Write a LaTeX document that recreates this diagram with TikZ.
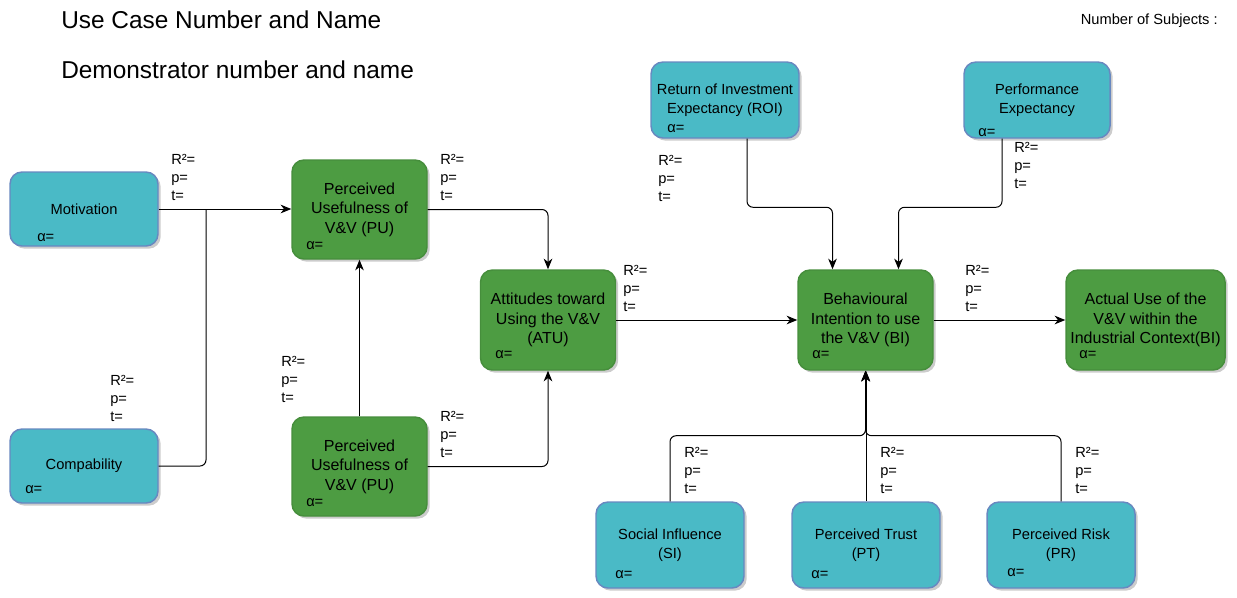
\documentclass[tikz,border=0pt]{standalone}
\usepackage{fontspec}
\setmainfont{Liberation Sans}
\usetikzlibrary{arrows.meta,calc,shadows}
\definecolor{cyanF}{RGB}{74,186,198}
\definecolor{cyanD}{RGB}{104,136,192}
\definecolor{greenF}{RGB}{77,156,66}
\definecolor{greenD}{RGB}{70,142,60}
\begin{document}
\begin{tikzpicture}[x=0.75pt,y=-0.75pt,
 box/.style={rectangle, rounded corners=9pt, line width=1.1pt, inner sep=0pt, align=center,
   font=\fontsize{11}{14.5}\selectfont,
   drop shadow={shadow xshift=2pt, shadow yshift=-2pt, fill=black!40, opacity=0.5}},
 cbox/.style={box, fill=cyanF, draw=cyanD},
 gbox/.style={box, fill=greenF, draw=greenD, font=\fontsize{12}{14.6}\selectfont},
 lbl/.style={font=\fontsize{11}{13.5}\selectfont, align=left, inner sep=0pt, anchor=base west},
 alab/.style={font=\fontsize{11}{13.5}\selectfont, inner sep=0pt, anchor=base west},
 conn/.style={line width=0.75pt, rounded corners=4.5pt},
 arr/.style={conn, -{Stealth[length=8pt,width=6.5pt,inset=2.5pt]}}
]
\useasboundingbox (0,0) rectangle (1237,597);

% titles
\node[font=\fontsize{18.3}{22}\selectfont, inner sep=0pt, anchor=base west] (t1) at (61,28) {Use Case Number and Name};
\node[font=\fontsize{18.3}{22}\selectfont, inner sep=0pt, anchor=base west] (t2) at (61,78) {Demonstrator number and name};
\node[font=\fontsize{11}{13.5}\selectfont, inner sep=0pt, anchor=base east] (t3) at (1218,24) {Number of Subjects :};

% boxes
\node[cbox, minimum width=111pt, minimum height=55.5pt] (mot) at (84,209) {Motivation};
\node[cbox, minimum width=111pt, minimum height=55.5pt] (comp) at (84,466) {Compability};
\node[gbox, minimum width=101.25pt, minimum height=74.25pt] (pu1) at (359.5,209.5) {Perceived\\Usefulness of\\V\&V (PU)};
\node[gbox, minimum width=101.25pt, minimum height=74.25pt] (pu2) at (359.5,466.5) {Perceived\\Usefulness of\\V\&V (PU)};
\node[gbox, minimum width=101.25pt, minimum height=75pt] (atu) at (548,320) {Attitudes toward\\Using the V\&V\\(ATU)};
\node[gbox, minimum width=101.25pt, minimum height=75pt] (bi) at (865.5,320) {Behavioural\\Intention to use\\the V\&V (BI)};
\node[gbox, minimum width=119.25pt, minimum height=75pt] (act) at (1145.5,320) {Actual Use of the\\V\&V within the\\Industrial Context(BI)};
\node[cbox, minimum width=111pt, minimum height=57pt] (roi) at (725,100) {Return of Investment\\Expectancy (ROI)};
\node[cbox, minimum width=109.5pt, minimum height=57pt] (perf) at (1037,100) {Performance\\Expectancy};
\node[cbox, minimum width=111pt, minimum height=64.5pt] (si) at (670,545) {Social Influence\\(SI)};
\node[cbox, minimum width=111pt, minimum height=64.5pt] (pt) at (866,545) {Perceived Trust\\(PT)};
\node[cbox, minimum width=111pt, minimum height=64.5pt] (pr) at (1061,545) {Perceived Risk\\(PR)};

% alpha labels
\node[alab] (amot) at (37,241) {α=};
\node[alab] (acomp) at (25,493) {α=};
\node[alab] (apu1) at (306,249) {α=};
\node[alab] (apu2) at (306,506) {α=};
\node[alab] (aatu) at (495,358) {α=};
\node[alab] (abi) at (812,358) {α=};
\node[alab] (aact) at (1079,358) {α=};
\node[alab] (aroi) at (667,132) {α=};
\node[alab] (aperf) at (978,136) {α=};
\node[alab] (asi) at (615,578) {α=};
\node[alab] (apt) at (811,578) {α=};
\node[alab] (apr) at (1007,576) {α=};

% statistic labels (anchor at the baseline of the last line)
\node[lbl] (l1) at (171,200) {R²=\\p=\\t=};
\node[lbl] (l2) at (440,200) {R²=\\p=\\t=};
\node[lbl] (l3) at (110,421) {R²=\\p=\\t=};
\node[lbl] (l4) at (281,402) {R²=\\p=\\t=};
\node[lbl] (l5) at (440,457) {R²=\\p=\\t=};
\node[lbl] (l6) at (623,311) {R²=\\p=\\t=};
\node[lbl] (l7) at (658,201) {R²=\\p=\\t=};
\node[lbl] (l8) at (1014,188) {R²=\\p=\\t=};
\node[lbl] (l9) at (965,311) {R²=\\p=\\t=};
\node[lbl] (l10) at (684,493) {R²=\\p=\\t=};
\node[lbl] (l11) at (880,493) {R²=\\p=\\t=};
\node[lbl] (l12) at (1075,493) {R²=\\p=\\t=};

% connectors
\coordinate (jn) at (206,209);
\draw[arr] (mot.east) -- (mot.east -| pu1.west);
\draw[conn] (comp.east) -| (jn);
\draw[arr] (pu1.east) -| (atu.north);
\draw[arr] (pu2.east) -| (atu.south);
\draw[arr] (pu2.north) -- (pu1.south);
\draw[arr] (atu.east) -- (bi.west);
\draw[arr] ($(roi.south)+(22,0)$) |- ($(bi.north)+(-33,-62)$) -- ($(bi.north)+(-33,0)$);
\draw[arr] ($(perf.south)+(-35,0)$) |- ($(bi.north)+(33,-62)$) -- ($(bi.north)+(33,0)$);
\draw[arr] (bi.east) -- (act.west);
\draw[arr] (si.north) |- ($(bi.south)+(0,65)$) -- (bi.south);
\draw[arr] (pt.north) -- (pt.north |- bi.south);
\draw[arr] (pr.north) |- ($(bi.south)+(0,65)$) -- (bi.south);
\end{tikzpicture}
\end{document}
